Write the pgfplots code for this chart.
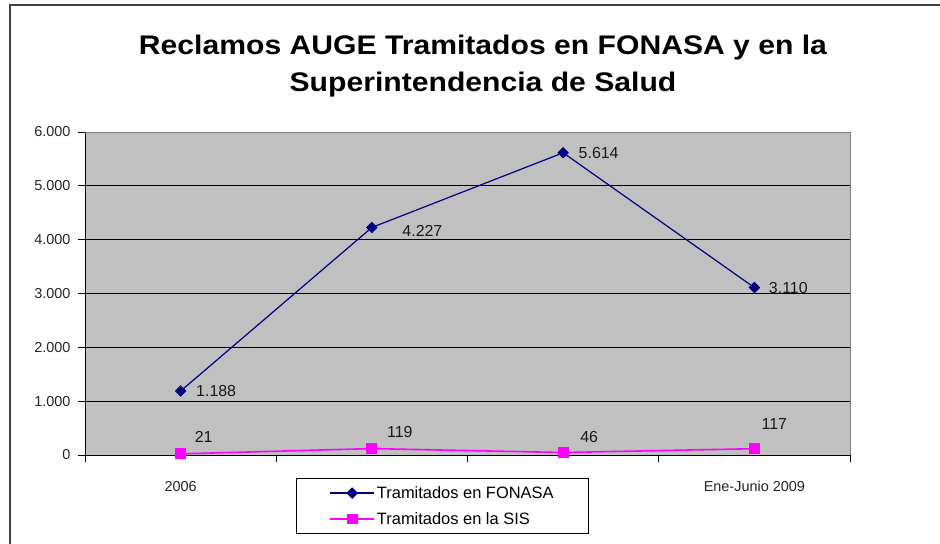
\documentclass[border=0pt]{standalone}
\usepackage{fontspec}
\setmainfont{Liberation Sans}
\newfontfamily\titlefont[FakeStretch=1.12]{Liberation Sans}
\usepackage{pgfplots}
\pgfplotsset{compat=1.18}
\usepackage{pgfplotstable}
\definecolor{navyc}{HTML}{000080}
\definecolor{magc}{HTML}{FF00FF}
\definecolor{plotbg}{HTML}{C0C0C0}

\pgfplotstableread{
x y dx dy
0 1188 15 0
1 4227 30 -3
2 5614 15 0
3 3110 14 0
}\fonasa
\pgfplotstableread{
x y dx dy
0 21 23 17
1 119 28 17
2 46 26 16
3 117 20 25
}\sis

\begin{document}
\begin{tikzpicture}
\path[use as bounding box] (-85bp,-89bp) rectangle (855bp,455bp);
\begin{axis}[
  at={(0,0)}, anchor=south west,
  scale only axis, width=765bp, height=323bp,
  xmin=-0.5, xmax=3.5, ymin=0, ymax=6000,
  axis background/.style={fill=plotbg},
  axis lines=left, axis line style={-, black, line width=0.8bp},
  tick align=outside, major tick length=7bp,
  tick style={black, line width=0.8bp},
  xtick={-0.5,0.5,1.5,2.5,3.5}, xticklabels={},
  extra x ticks={0,3}, extra x tick labels={2006,Ene-Junio 2009},
  extra x tick style={major tick length=0pt},
  ytick={0,1000,2000,3000,4000,5000,6000},
  ymajorgrids, grid style={black, line width=0.8bp},
  yticklabel style={font=\fontsize{14.5}{17}\selectfont, text=black!85, xshift=-4bp},
  xticklabel style={font=\fontsize{14.5}{17}\selectfont, text=black!85, yshift=-23bp},
  /pgf/number format/1000 sep={.},
  /pgf/number format/assume math mode=true,
  clip=false,
  legend cell align=left,
  legend image code/.code={\draw[mark repeat=2,mark phase=2,#1] plot coordinates {(0bp,0bp) (22bp,0bp) (44bp,0bp)};},
  legend style={at={(axis description cs:0.2758,-0.0712)}, anchor=north west,
    draw=black, line width=0.8bp, fill=white, inner xsep=33bp, inner ysep=6bp,
    row sep=8.6bp, font=\fontsize{16.5}{19}\selectfont,
    /tikz/every even column/.append style={column sep=2bp}},
]
\addplot[navyc, line width=1.2bp, mark=square*, mark size=3.5bp, mark options={rotate=45},
  nodes near coords,
  visualization depends on={\thisrow{dx}\as\dx},
  visualization depends on={\thisrow{dy}\as\dy},
  every node near coord/.append style={anchor=west, inner sep=0pt, xshift=\dx*1bp, yshift=\dy*1bp, rotate=0,
    font=\fontsize{16}{19}\selectfont, text=black!90}]
  table[x=x,y=y]{\fonasa};
\addlegendentry{Tramitados en FONASA}
\addplot[magc, line width=1.6bp, mark=square*, mark size=4.6bp, mark options={solid, fill=magc, draw=magc},
  nodes near coords,
  visualization depends on={\thisrow{dx}\as\dx},
  visualization depends on={\thisrow{dy}\as\dy},
  every node near coord/.append style={anchor=center, inner sep=0pt, xshift=\dx*1bp, yshift=\dy*1bp,
    font=\fontsize{16}{19}\selectfont, text=black!90}]
  table[x=x,y=y]{\sis};
\addlegendentry{Tramitados en la SIS}
\draw[black!50, line width=0.8bp] (rel axis cs:0,1) -- (rel axis cs:1,1) -- (rel axis cs:1,0);
\end{axis}
\draw[black!75, line width=1.2bp] (-75bp,-89bp) -- (-75bp,450bp) -- (855bp,450bp);
\node[anchor=base, font=\titlefont\bfseries\fontsize{27}{32}\selectfont] at (398bp,400bp) {Reclamos AUGE Tramitados en FONASA y en la};
\node[anchor=base, font=\titlefont\bfseries\fontsize{27}{32}\selectfont] at (398bp,363bp) {Superintendencia de Salud};
\end{tikzpicture}
\end{document}
